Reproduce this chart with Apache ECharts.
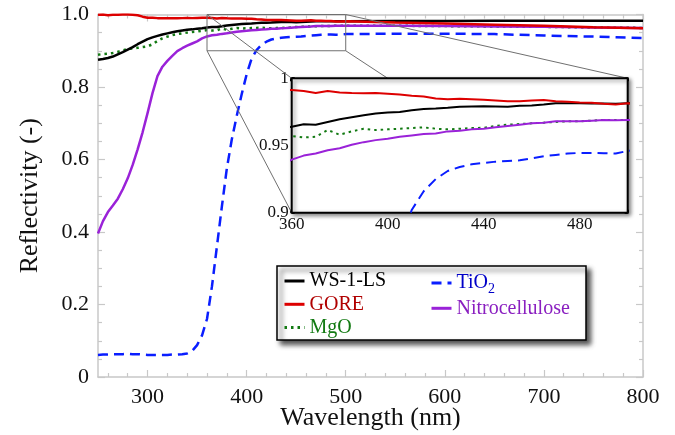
<!DOCTYPE html>
<html>
<head>
<meta charset="utf-8">
<script src="https://cdn.jsdelivr.net/npm/echarts@6/dist/echarts.min.js"></script>
<style>html,body{margin:0;padding:0;background:#fff}#c{width:675px;height:435px}</style>
</head>
<body>
<div id="c"></div>
<script>
// ---------- data ----------
const wavelength = [250,255,260,265,270,275,280,285,290,295,300,305,310,315,320,325,330,335,340,345,350,355,360,365,370,375,380,385,390,395,400,405,410,415,420,425,430,435,440,445,450,455,460,465,470,475,480,485,490,495,500,550,600,650,700,750,800];
const ws1ls = [.875,.877,.880,.884,.890,.896,.903,.910,.918,.925,.932,.937,.941,.945,.948,.951,.954,.956,.958,.959,.961,.962,.964,.9658,.9655,.9675,.9695,.971,.9725,.9738,.9745,.975,.9762,.9772,.9775,.978,.9788,.979,.9792,.979,.9788,.9795,.9798,.9805,.9814,.9815,.9814,.9812,.9812,.9811,.9814,.982,.982,.9825,.9825,.9825,.9825];
const gore = [.999,1.0,.998,.999,.999,1.0,1.0,.999,.998,.994,.991,.991,.990,.990,.9895,.990,.9895,.990,.9905,.990,.9905,.991,.9913,.9905,.989,.9905,.9895,.989,.9888,.989,.9885,.988,.987,.9865,.985,.9845,.9848,.9845,.984,.9835,.983,.983,.9835,.9838,.983,.9825,.982,.9818,.981,.9805,.9814,.978,.975,.972,.969,.965,.962];
const mgo = [.889,.891,.892,.894,.897,.901,.905,.906,.908,.910,.912,.918,.927,.934,.939,.943,.946,.948,.950,.952,.953,.955,.957,.956,.9565,.9615,.958,.9605,.9625,.9615,.962,.9625,.963,.9635,.9625,.962,.9625,.963,.9632,.9645,.9655,.966,.9665,.967,.9675,.968,.968,.9685,.969,.969,.969,.969,.968,.967,.966,.964,.963];
const tio2 = [.061,.062,.062,.063,.063,.063,.064,.063,.063,.062,.061,.061,.061,.061,.061,.062,.062,.063,.065,.072,.088,.115,.16,.25,.36,.47,.575,.655,.72,.78,.835,.878,.902,.916,.925,.931,.934,.936,.937,.938,.9385,.939,.9405,.942,.943,.944,.9445,.9445,.9443,.944,.946,.947,.947,.946,.942,.939,.935];
const nitro = [.396,.43,.455,.473,.492,.518,.548,.585,.628,.675,.728,.783,.830,.856,.872,.886,.899,.907,.914,.920,.926,.934,.9395,.9425,.944,.9465,.948,.9505,.9525,.954,.955,.9565,.9575,.9585,.959,.9605,.961,.962,.9625,.9635,.9645,.9655,.9665,.967,.968,.968,.968,.9685,.969,.9688,.969,.969,.968,.967,.966,.964,.963];

const mainXMajor = [300,400,500,600,700,800];
const mainXMinor = [260,280,320,340,360,380,420,440,460,480,520,540,560,580,620,640,660,680,720,740,760,780];
const insetXLabels = [360,400,440,480];
const insetXMajor = [360,380,400,420,440,460,480,500];
const insetXMinor = [365,370,375,385,390,395,405,410,415,425,430,435,445,450,455,465,470,475,485,490,495];

const seriesDefs = [
  {name:'WS-1-LS', data: ws1ls, color:'#000000', type:'solid', text:'#000000'},
  {name:'GORE', data: gore, color:'#dd0000', type:'solid', text:'#b00000'},
  {name:'MgO', data: mgo, color:'#137a13', type:[2.5,4], text:'#137a13'},
  {name:'TiO2', data: tio2, color:'#0a1eff', type:[10,6], text:'#0000c8'},
  {name:'Nitrocellulose', data: nitro, color:'#9a22d8', type:'solid', text:'#8a1fc0'}
];
const drawOrder = ['MgO','TiO2','Nitrocellulose','WS-1-LS','GORE'];

const FONT = 'Liberation Serif';
const gray = '#c8c8c8';

function pairs(arr){ return wavelength.map((w,i)=>[w, arr[i]]); }

const series = [];
drawOrder.forEach(n=>{
  const d = seriesDefs.find(s=>s.name===n);
  series.push({name:d.name, type:'line', xAxisIndex:0, yAxisIndex:0, data:pairs(d.data),
    symbol:'none', showSymbol:false, clip:true, z:2,
    lineStyle:{color:d.color, width:2.5, type:d.type, cap:'butt'},
    itemStyle:{color:d.color}});
});
drawOrder.forEach(n=>{
  const d = seriesDefs.find(s=>s.name===n);
  series.push({name:d.name, type:'line', xAxisIndex:4, yAxisIndex:2, data:pairs(d.data),
    symbol:'none', showSymbol:false, clip:true, z:6,
    lineStyle:{color:d.color, width:2, type:d.type},
    itemStyle:{color:d.color}});
});

const hiddenLabel = {show:false};
function tickAxis(base){ return Object.assign({type:'value', splitLine:{show:false}}, base); }

const xAxes = [
  tickAxis({gridIndex:0, position:'bottom', min:250, max:800,
    axisLine:{show:true, lineStyle:{color:gray, width:1.5}},
    axisTick:{show:true, inside:true, length:7, customValues:mainXMajor, lineStyle:{color:gray, width:1.2}},
    axisLabel:{show:true, customValues:mainXMajor, fontFamily:FONT, fontSize:22, color:'#111', margin:9},
    name:'Wavelength (nm)', nameLocation:'middle', nameGap:28, nameMoveOverlap:false,
    nameTextStyle:{fontFamily:FONT, fontSize:26, color:'#111'}}),
  tickAxis({gridIndex:0, position:'bottom', min:250, max:800,
    axisLine:{show:false},
    axisTick:{show:true, inside:true, length:4, customValues:mainXMinor, lineStyle:{color:gray, width:1.2}},
    axisLabel:hiddenLabel}),
  tickAxis({gridIndex:0, position:'top', min:250, max:800,
    axisLine:{show:true, lineStyle:{color:gray, width:1.5}},
    axisTick:{show:true, inside:true, length:7, customValues:mainXMajor, lineStyle:{color:gray, width:1.2}},
    axisLabel:hiddenLabel}),
  tickAxis({gridIndex:0, position:'top', min:250, max:800,
    axisLine:{show:false},
    axisTick:{show:true, inside:true, length:4, customValues:mainXMinor, lineStyle:{color:gray, width:1.2}},
    axisLabel:hiddenLabel}),
  tickAxis({gridIndex:1, position:'bottom', min:360, max:500,
    axisLine:{show:false},
    axisTick:{show:true, inside:true, length:3, customValues:insetXMajor, lineStyle:{color:'#000', width:3}},
    axisLabel:{show:true, customValues:insetXLabels, fontFamily:FONT, fontSize:17, color:'#111', margin:3}}),
  tickAxis({gridIndex:1, position:'bottom', min:360, max:500,
    axisLine:{show:false},
    axisTick:{show:true, inside:true, length:3, customValues:insetXMinor, lineStyle:{color:'#000', width:1}},
    axisLabel:hiddenLabel}),
  tickAxis({gridIndex:1, position:'top', min:360, max:500,
    axisLine:{show:false},
    axisTick:{show:true, inside:true, length:3, customValues:insetXMajor, lineStyle:{color:'#000', width:3}},
    axisLabel:hiddenLabel}),
  tickAxis({gridIndex:1, position:'top', min:360, max:500,
    axisLine:{show:false},
    axisTick:{show:true, inside:true, length:3, customValues:insetXMinor, lineStyle:{color:'#000', width:1}},
    axisLabel:hiddenLabel})
];

const yAxes = [
  tickAxis({gridIndex:0, position:'left', min:0, max:1, interval:0.2,
    axisLine:{show:true, lineStyle:{color:gray, width:1.5}},
    axisTick:{show:true, inside:true, length:7, lineStyle:{color:gray, width:1.2}},
    minorTick:{show:true, splitNumber:4, length:4, lineStyle:{color:gray, width:1.2}},
    axisLabel:{show:true, fontFamily:FONT, fontSize:22, color:'#111', margin:9,
      formatter:v=> v===0 ? '0' : v.toFixed(1)},
    name:'Reflectivity (-)', nameLocation:'middle', nameGap:55, nameMoveOverlap:false,
    nameTextStyle:{fontFamily:FONT, fontSize:26, color:'#111'}}),
  tickAxis({gridIndex:0, position:'right', min:0, max:1, interval:0.2,
    axisLine:{show:true, lineStyle:{color:gray, width:1.5}},
    axisTick:{show:true, inside:true, length:7, lineStyle:{color:gray, width:1.2}},
    minorTick:{show:true, splitNumber:4, length:4, lineStyle:{color:gray, width:1.2}},
    axisLabel:hiddenLabel}),
  tickAxis({gridIndex:1, position:'left', min:0.9, max:1, interval:0.05,
    axisLine:{show:false},
    axisTick:{show:true, inside:true, length:3, lineStyle:{color:'#000', width:3}},
    minorTick:{show:true, splitNumber:5, length:3, lineStyle:{color:'#000', width:1}},
    axisLabel:{show:true, fontFamily:FONT, fontSize:17, color:'#111', margin:3,
      formatter:v=> String(+v.toFixed(2))}}),
  tickAxis({gridIndex:1, position:'right', min:0.9, max:1, interval:0.05,
    axisLine:{show:false},
    axisTick:{show:true, inside:true, length:3, lineStyle:{color:'#000', width:3}},
    minorTick:{show:true, splitNumber:5, length:3, lineStyle:{color:'#000', width:1}},
    axisLabel:hiddenLabel})
];

function legendData(names){
  return names.map(n=>{
    const d = seriesDefs.find(s=>s.name===n);
    return {name:n, textStyle:{color:d.text}};
  });
}
const legendText = {fontFamily:FONT, fontSize:20, lineHeight:22,
  rich:{s:{fontFamily:FONT, fontSize:14, lineHeight:14, padding:[12,0,0,0], color:'#0000c8'}}};
const legendCommon = {orient:'vertical', itemWidth:20, itemHeight:12, itemGap:1.3, padding:0, z:6,
  selectedMode:false, textStyle:legendText,
  itemStyle:{opacity:0, borderWidth:0}, lineStyle:{width:3}};

const chart = echarts.init(document.getElementById('c'), null, {renderer:'canvas'});
const option = {
  animation:false,
  backgroundColor:'#ffffff',
  grid:[
    {left:98, top:14.5, width:545, height:362.5, show:false, outerBoundsMode:'none', containLabel:false},
    {left:291.7, top:78.3, width:336, height:134.4, show:true, backgroundColor:'#ffffff', outerBoundsMode:'none', containLabel:false,
     borderColor:'#000', borderWidth:2, shadowBlur:4, shadowColor:'rgba(0,0,0,0.45)', shadowOffsetX:2, shadowOffsetY:2, z:4}
  ],
  xAxis:xAxes,
  yAxis:yAxes,
  legend:[
    Object.assign({left:283, top:270, data:legendData(['WS-1-LS','GORE','MgO'])}, legendCommon),
    Object.assign({left:430, top:270, data:legendData(['TiO2','Nitrocellulose']),
      formatter:n=> n==='TiO2' ? 'TiO{s|2}' : n}, legendCommon)
  ],
  series:series
};
chart.setOption(option);

// decorations computed through the axes
const P = (xi, yi, pt)=> chart.convertToPixel({xAxisIndex:xi, yAxisIndex:yi}, pt);
const rTL = P(0,0,[360,1]), rBR = P(0,0,[500,0.9]);
const iTL = P(4,2,[360,1]), iBL = P(4,2,[360,0.9]), iTR = P(4,2,[500,1]), iTop400 = P(4,2,[400,1]);
const lineStyle = {stroke:'#707070', lineWidth:1};
chart.setOption({
  graphic:[
    {type:'rect', z:3, shape:{x:rTL[0], y:rTL[1], width:rBR[0]-rTL[0], height:rBR[1]-rTL[1]}, style:{fill:null, stroke:'#707070', lineWidth:1}},
    {type:'line', z:3, shape:{x1:rTL[0], y1:rTL[1], x2:iTL[0], y2:iTL[1]}, style:lineStyle},
    {type:'line', z:3, shape:{x1:rTL[0], y1:rBR[1], x2:iBL[0], y2:iBL[1]}, style:lineStyle},
    {type:'line', z:3, shape:{x1:rBR[0], y1:rTL[1], x2:iTR[0], y2:iTR[1]}, style:lineStyle},
    {type:'line', z:3, shape:{x1:rBR[0], y1:rBR[1], x2:iTop400[0], y2:iTop400[1]}, style:lineStyle},
    {type:'rect', z:4, shape:{x:277, y:266, width:309, height:74},
     style:{fill:'#fff', stroke:'#000', lineWidth:1.5, shadowBlur:5, shadowOffsetX:4, shadowOffsetY:4, shadowColor:'rgba(0,0,0,0.7)'}}
  ]
});
</script>
</body>
</html>
